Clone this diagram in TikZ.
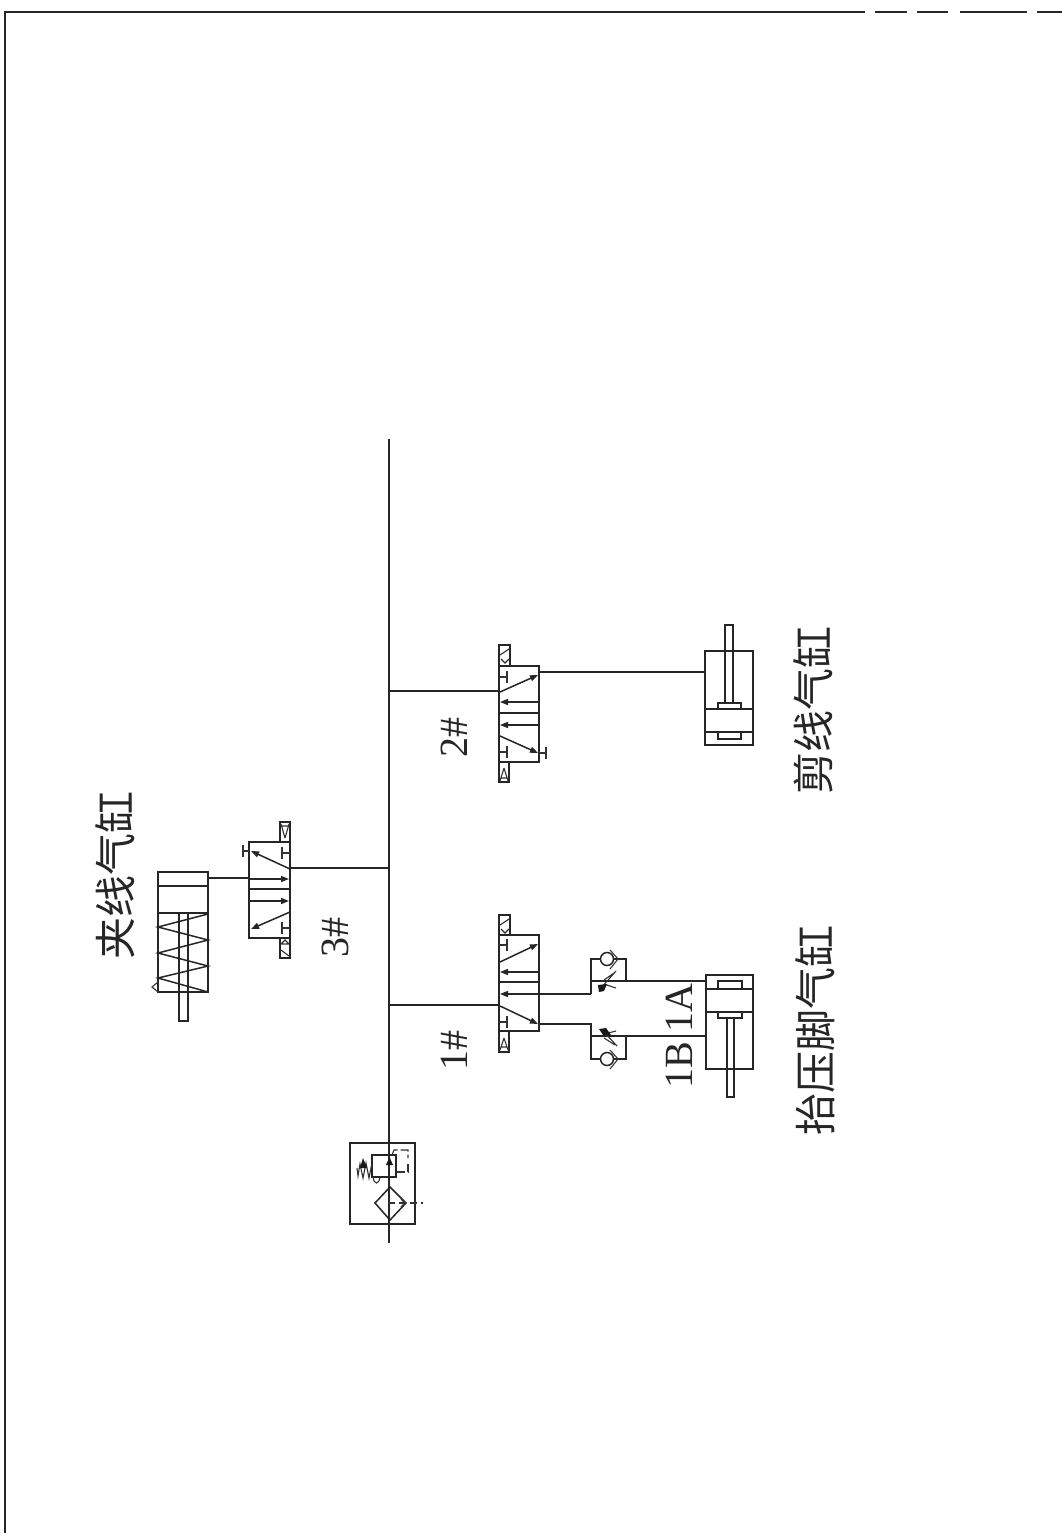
\documentclass[tikz,border=0pt]{standalone}
\usepackage{fontspec}
\setmainfont{Liberation Serif}
\newfontfamily\cjk{Noto Sans CJK SC}[Scale=1]
\usetikzlibrary{arrows.meta}
\tikzset{
 x=1pt,y=-1pt,
 ln/.style={line width=1.5pt,draw=black!85,line cap=butt},
 thin ln/.style={line width=1.1pt,draw=black!80},
 flow/.style={ln,-{Triangle[length=8pt,width=6pt]}},
 label v/.style={rotate=90,inner sep=0pt,text=black!85,font=\fontsize{40}{40}\selectfont},
 label c/.style={rotate=90,inner sep=0pt,text=black!85,font=\cjk\fontsize{42}{42}\selectfont},
 blob/.style={fill=black!90,draw=none},
}
% T-shaped blocked port: from (#1) along to bar at x=#2, y=#3
\newcommand{\tport}[3]{\draw[thin ln] (#1,#3) -- (#2,#3) (#2,#3-6) -- (#2,#3+6);}
\begin{document}
\begin{tikzpicture}
\useasboundingbox (0,0) rectangle (1062,1533);
\fill[white] (0,0) rectangle (1062,1533);
% frame
\draw[ln] (5,1533) -- (5,12) -- (865,12);
\draw[ln] (875,12) -- (907,12) (917,12) -- (948,12) (960,12) -- (1027,12) (1037,12) -- (1062,12);

% coordinates of the supply line
\coordinate (mainT) at (389,439);
\coordinate (mainB) at (389,1243);
\coordinate (j2) at (389,691);
\coordinate (j3) at (389,868);
\coordinate (j1) at (389,1005);
\draw[ln] (mainT) -- (mainB);

% ---------- FRL unit
\draw[ln] (350,1143) rectangle (415,1224);
\draw[ln] (372,1155) rectangle (396,1177);
\draw[ln] (389,1177) -- (389,1187);
\fill[blob] (389.5,1157) -- (386,1165) -- (393,1165) -- cycle;
\draw[ln] (375,1203) -- (390,1187) -- (406,1203) -- (390,1220) -- cycle;
\draw[thin ln,dash pattern=on 7pt off 4pt] (388,1203) -- (423,1203);
\draw[thin ln] (401,1199) -- (405,1203) -- (401,1207);
\draw[thin ln,dash pattern=on 9pt off 3pt] (392,1155) -- (394,1150) -- (408,1150) -- (408,1158);
\draw[thin ln,dash pattern=on 9pt off 3pt] (396,1172) -- (408,1172) -- (408,1164);
\draw[thin ln] (372,1163) -- (369,1178) -- (366,1163) -- (363,1178) -- (360,1164) -- (358,1176) -- (357,1168);
\fill[blob] (363,1158) -- (360,1168) -- (367,1168) -- cycle;
\draw[thin ln] (373,1177) .. controls (374,1185) and (379,1185) .. (380,1177);

% ---------- valve 1
\draw[ln] (499,935) rectangle (539,1031);
\draw[ln] (499,982) -- (539,982);
\draw[ln] (499,915) rectangle (510,935);
\draw[thin ln] (500,925) -- (509,919) (501,929) -- (505,933) -- (509,929);
\draw[ln] (499,1031) rectangle (509,1052);
\draw[thin ln] (504,1038) -- (500,1050) (504,1038) -- (508,1050) (501,1047) -- (507,1047);
\tport{499}{507}{945}
\tport{499}{507}{1022}
\draw[flow] (500,962) -- (538,944);
\draw[flow] (539,972) -- (500,972);
\draw[flow] (591,994) -- (500,994);
\draw[flow] (500,1006) -- (538,1024);
\draw[ln] (j1) -- (500,1005);
% lines to cylinder 1
\coordinate (c1a) at (706,981);
\coordinate (c1b) at (706,1036);
\draw[ln] (591,994) -- (591,959) -- (600,959);
\draw[ln] (613,959) -- (626,959) -- (626,981);
\draw[ln] (591,981) -- (c1a);
\draw[ln] (539,1024) -- (591,1024) -- (591,1059) -- (600,1059);
\draw[ln] (613,1059) -- (626,1059) -- (626,1036);
\draw[ln] (591,1036) -- (c1b);
\draw[ln] (607,959) circle (6.5);
\draw[ln] (607,1059) circle (6.5);
\draw[thin ln] (610,950) -- (618,959) -- (610,969);
\draw[thin ln] (610,1050) -- (618,1059) -- (610,1069);
% throttle, upper
\draw[thin ln] (604,980) -- (614,973) (604,984) -- (616,988) (616,971) -- (601,988);
\fill[blob] (598,985) -- (607,984) -- (604,991) -- (599,992) -- cycle;
% throttle, lower
\draw[thin ln] (604,1034) -- (616,1031) (604,1038) -- (615,1045) (617,1046) -- (603,1031);
\fill[blob] (599,1029) -- (606,1028) -- (611,1035) -- (603,1035) -- cycle;
% cylinder 1
\draw[ln] (706,975) rectangle (753,1069);
\draw[ln] (706,989) -- (753,989) (706,1012) -- (753,1012);
\draw[ln] (718,981) rectangle (742,989);
\draw[ln] (718,1012) rectangle (742,1018);
\draw[ln] (727,1018) rectangle (734,1097);

% ---------- valve 2
\draw[ln] (499,666) rectangle (539,762);
\draw[ln] (499,713) -- (539,713);
\draw[ln] (499,645) rectangle (510,666);
\draw[thin ln] (500,655) -- (509,649) (501,659) -- (505,663) -- (509,659);
\draw[ln] (499,762) rectangle (509,782);
\draw[thin ln] (504,768) -- (500,781) (504,768) -- (508,781) (501,778) -- (507,778);
\tport{499}{507}{677}
\tport{499}{507}{752}
\draw[flow] (500,692) -- (538,675);
\draw[flow] (539,702) -- (500,702);
\draw[flow] (539,725) -- (500,725);
\draw[flow] (500,736) -- (538,753);
\tport{539}{546}{753}
\draw[ln] (j2) -- (500,691);
\coordinate (c2a) at (705,672);
\draw[ln] (539,672) -- (c2a);
% cylinder 2
\draw[ln] (705,651) rectangle (753,745);
\draw[ln] (705,709) -- (753,709) (705,732) -- (753,732);
\draw[ln] (718,703) rectangle (741,709);
\draw[ln] (718,732) rectangle (741,739);
\draw[ln] (725,625) rectangle (733,703);

% ---------- valve 3
\draw[ln] (249,842) rectangle (290,938);
\draw[ln] (249,889) -- (290,889);
\draw[ln] (280,822) rectangle (290,842);
\draw[thin ln] (285,838) -- (281,824) (285,838) -- (289,824) (281,826) -- (289,826);
\draw[ln] (280,938) rectangle (290,958);
\draw[thin ln] (281,944) -- (285,940) -- (289,944) -- cycle (281,950) -- (289,956);
\tport{290}{282}{853}
\tport{290}{282}{928}
\tport{249}{243}{851}
\draw[flow] (290,869) -- (251,851);
\draw[flow] (249,879) -- (289,879);
\draw[flow] (249,901) -- (289,901);
\draw[flow] (290,912) -- (251,929);
\draw[ln] (j3) -- (290,868);
\coordinate (c3a) at (208,878);
\draw[ln] (249,878) -- (c3a);
% cylinder 3
\draw[ln] (158,872) rectangle (208,992);
\draw[ln] (158,886) -- (208,886) (158,913) -- (208,913);
\draw[ln] (179,913) rectangle (188,1021);
\draw[ln] (208,914) -- (158,927) -- (208,940) -- (158,953) -- (208,966) -- (158,978) -- (208,992);
\draw[thin ln] (158,982) -- (152,987) -- (158,992);

% ---------- labels
\node[label c] (t3) at (115,875) {夹线气缸};
\node[label v] (n3) at (335,937) {3\#};
\node[label v] (n2) at (454,737) {2\#};
\node[label v] (n1) at (454,1050) {1\#};
\node[label v] (n1b) at (679,1065) {1B};
\node[label v] (n1a) at (679,1008) {1A};
\node[label c] (t2) at (813,710) {剪线气缸};
\node[label c] (t1) at (815,1030) {抬压脚气缸};
\end{tikzpicture}
\end{document}
